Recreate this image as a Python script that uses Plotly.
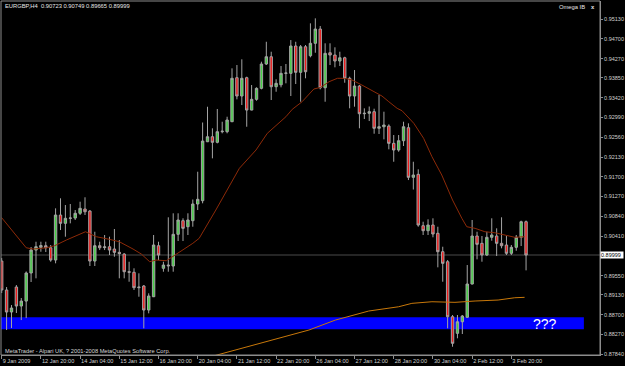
import plotly.graph_objects as go

# ---------------- data (EURGBP, H4) ----------------
bar_index = list(range(108))

opens = [0.89868, 0.89238, 0.88760, 0.89303, 0.88890, 0.88998, 0.89608, 0.90107, 0.90165, 0.90201,
         0.90157, 0.89890, 0.90868, 0.90688, 0.90797, 0.90803, 0.90906, 0.90999, 0.90955, 0.89868,
         0.90201, 0.90160, 0.90179, 0.90129, 0.90057, 0.90020, 0.89636, 0.89623, 0.89288, 0.89325,
         0.88803, 0.89092, 0.90201, 0.89710, 0.89781, 0.89760, 0.90449, 0.90745, 0.90614, 0.90745,
         0.91108, 0.91180, 0.92462, 0.92571, 0.92449, 0.92680, 0.92680, 0.92897, 0.93854, 0.93456,
         0.93854, 0.93151, 0.93384, 0.93623, 0.94152, 0.94310, 0.93658, 0.93700, 0.93949, 0.93949,
         0.94543, 0.93971, 0.94528, 0.94332, 0.94602, 0.94912, 0.93636, 0.94397, 0.94347, 0.94217,
         0.94288, 0.93841, 0.93456, 0.93673, 0.93071, 0.93080, 0.93115, 0.92754, 0.92788, 0.92803,
         0.92427, 0.92282, 0.92484, 0.92767, 0.91688, 0.91753, 0.90636, 0.90527, 0.90651, 0.90471,
         0.90071, 0.89853, 0.88657, 0.88296, 0.88548, 0.88644, 0.89368, 0.90412, 0.90253, 0.89999,
         0.90384, 0.90412, 0.90253, 0.90216, 0.90036, 0.90166, 0.90384, 0.90723]

highs = [0.89933, 0.89303, 0.88911, 0.89346, 0.89064, 0.89641, 0.90172, 0.90288, 0.90288, 0.90288,
         0.90216, 0.91014, 0.91232, 0.91086, 0.91108, 0.90977, 0.91158, 0.91254, 0.90977, 0.90505,
         0.90288, 0.90434, 0.90397, 0.90564, 0.90325, 0.90040, 0.89853, 0.89710, 0.89601, 0.89347,
         0.89166, 0.90434, 0.90288, 0.89853, 0.90819, 0.90906, 0.90906, 0.90797, 0.90906, 0.91206,
         0.91810, 0.92880, 0.93223, 0.92754, 0.93174, 0.92897, 0.93006, 0.94058, 0.94130, 0.94254,
         0.93876, 0.93695, 0.93645, 0.94202, 0.94636, 0.94419, 0.93819, 0.94108, 0.94152, 0.94673,
         0.94636, 0.94565, 0.94565, 0.95036, 0.95145, 0.94978, 0.94602, 0.94602, 0.94515, 0.94419,
         0.94310, 0.93876, 0.94021, 0.93695, 0.93188, 0.93228, 0.93180, 0.93478, 0.93115, 0.92840,
         0.92608, 0.92608, 0.92897, 0.92862, 0.92027, 0.91862, 0.90723, 0.90775, 0.90797, 0.90614,
         0.90179, 0.89890, 0.88694, 0.88694, 0.88694, 0.89781, 0.90760, 0.90505, 0.90412, 0.90505,
         0.90797, 0.90579, 0.90819, 0.90412, 0.90216, 0.90434, 0.90745, 0.90749]

lows = [0.89173, 0.88368, 0.88411, 0.88738, 0.88585, 0.88628, 0.89412, 0.89492, 0.90070, 0.90064,
        0.89853, 0.89818, 0.90542, 0.90397, 0.90688, 0.90760, 0.90869, 0.90869, 0.89760, 0.89760,
        0.90107, 0.90107, 0.89999, 0.89962, 0.89492, 0.89492, 0.89418, 0.89238, 0.89092, 0.88405,
        0.88731, 0.89085, 0.89890, 0.89636, 0.89636, 0.89636, 0.90303, 0.90303, 0.90434, 0.90614,
        0.90977, 0.91123, 0.92455, 0.92101, 0.92427, 0.92645, 0.92645, 0.92890, 0.93384, 0.93260,
        0.92788, 0.93145, 0.93354, 0.93601, 0.94130, 0.93369, 0.93549, 0.93645, 0.93732, 0.93456,
        0.93717, 0.93332, 0.93841, 0.94297, 0.94397, 0.93601, 0.93332, 0.94130, 0.94080, 0.94108,
        0.93745, 0.93189, 0.93224, 0.92754, 0.92956, 0.92912, 0.92636, 0.92630, 0.92514, 0.92297,
        0.92027, 0.92245, 0.92369, 0.91629, 0.91423, 0.90614, 0.90434, 0.90434, 0.90384, 0.89731,
        0.89418, 0.88405, 0.88005, 0.88188, 0.88281, 0.88640, 0.89360, 0.89905, 0.89853, 0.89977,
        0.90310, 0.89977, 0.90144, 0.89999, 0.89999, 0.90092, 0.90195, 0.89665]

closes = [0.89238, 0.88760, 0.88846, 0.88890, 0.88998, 0.89608, 0.90107, 0.90179, 0.90205, 0.90157,
          0.89890, 0.90868, 0.90688, 0.90797, 0.90803, 0.90906, 0.91014, 0.90940, 0.89868, 0.90201,
          0.90157, 0.90175, 0.90107, 0.90057, 0.90030, 0.89636, 0.89625, 0.89288, 0.89300, 0.88803,
          0.89107, 0.90216, 0.89999, 0.89781, 0.89765, 0.90449, 0.90760, 0.90579, 0.90760, 0.91108,
          0.91210, 0.92477, 0.92571, 0.92449, 0.92680, 0.92690, 0.92934, 0.93841, 0.93456, 0.93841,
          0.93151, 0.93384, 0.93623, 0.94152, 0.94310, 0.93658, 0.93732, 0.93949, 0.93955, 0.94543,
          0.93971, 0.94528, 0.93984, 0.94602, 0.94912, 0.93636, 0.94384, 0.94347, 0.94217, 0.94288,
          0.93841, 0.93456, 0.93673, 0.93071, 0.93080, 0.93115, 0.92754, 0.92788, 0.92825, 0.92427,
          0.92282, 0.92484, 0.92788, 0.91688, 0.91738, 0.90651, 0.90527, 0.90651, 0.90456, 0.90071,
          0.89818, 0.88657, 0.88079, 0.88548, 0.88673, 0.89368, 0.90412, 0.90231, 0.89999, 0.90384,
          0.90434, 0.90253, 0.90201, 0.90036, 0.90166, 0.90384, 0.90723, 0.89999]

# fast moving average (dark red line), read at bar positions
ma_fast_bar = [0, 2, 4, 5, 6.4, 9.2, 10.8, 13.2, 17.1, 19.3, 22, 24, 26.8, 28.5, 30.2, 31.5, 33.6,
               34.9, 36.9, 39, 40.3, 43.7, 48.5, 51.9, 54.2, 58, 59.3, 61.3, 63.7, 65.1, 66.8, 68.5,
               70, 71.5, 73.5, 75.6, 77.6, 79, 80.7, 81.7, 84.1, 86.1, 87.8, 89.8, 92, 93.9, 94.9,
               96.6, 98.6, 100.6, 102.7, 104.7, 106.7]
ma_fast_val = [0.90810, 0.90542, 0.90266, 0.90157, 0.90129, 0.90157, 0.90201, 0.90325, 0.90505,
               0.90397, 0.90340, 0.90288, 0.90129, 0.90020, 0.89853, 0.89890, 0.89875, 0.89962,
               0.90107, 0.90253, 0.90362, 0.90977, 0.91884, 0.92282, 0.92645, 0.93006, 0.93167,
               0.93332, 0.93608, 0.93645, 0.93767, 0.93841, 0.93841, 0.93804, 0.93695, 0.93575,
               0.93456, 0.93332, 0.93188, 0.93136, 0.92862, 0.92536, 0.92136, 0.91738, 0.91195,
               0.90797, 0.90614, 0.90579, 0.90505, 0.90484, 0.90434, 0.90384, 0.90397]

# slow moving average (orange line), read at bar positions
ma_slow_bar = [41, 44.4, 50.5, 56.6, 62.7, 68.1, 74.9, 81, 83.7, 87.8, 92.5, 96.6, 101.3, 104.7, 106.7]
ma_slow_val = [0.87740, 0.87840, 0.88020, 0.88188, 0.88368, 0.88585, 0.88781, 0.88874, 0.88948,
               0.88983, 0.88970, 0.88999, 0.89020, 0.89070, 0.89079]

# support zone (blue rectangle) and current bid
zone_low, zone_high = 0.88384, 0.88644
zone_end_bar = 118.8
bid_price = 0.89999

price_ticks = [0.95130, 0.94700, 0.94270, 0.93850, 0.93420, 0.92990, 0.92560, 0.92130, 0.91700,
               0.91270, 0.90840, 0.90410, 0.89550, 0.89130, 0.88700, 0.88270, 0.87840]
date_tick_bars = [0, 8, 16, 24, 32, 40, 48, 56, 64, 72, 80, 88, 96, 104]
date_tick_labels = ["9 Jan 2009", "12 Jan 20:00", "14 Jan 04:00", "15 Jan 12:00", "16 Jan 20:00",
                    "20 Jan 04:00", "21 Jan 12:00", "22 Jan 20:00", "26 Jan 04:00", "27 Jan 12:00",
                    "28 Jan 20:00", "30 Jan 04:00", "2 Feb 12:00", "3 Feb 20:00"]

# ---------------- figure ----------------
FONT = "Liberation Sans, Arial, sans-serif"
WICK = "#a4a4a4"

fig = go.Figure()
fig.add_trace(go.Candlestick(
    x=bar_index, open=opens, high=highs, low=lows, close=closes,
    increasing=dict(line=dict(color=WICK, width=1), fillcolor="#46d046"),
    decreasing=dict(line=dict(color=WICK, width=1), fillcolor="#ee1c1c"),
    whiskerwidth=0, hoverinfo="skip", showlegend=False))
fig.add_trace(go.Scatter(x=ma_fast_bar, y=ma_fast_val, mode="lines",
                         line=dict(color="#8e2a08", width=1), hoverinfo="skip", showlegend=False))
fig.add_trace(go.Scatter(x=ma_slow_bar, y=ma_slow_val, mode="lines",
                         line=dict(color="#c8780a", width=1), hoverinfo="skip", showlegend=False))

x_range = [-0.14, 122.09]
fig.update_layout(
    width=625, height=366,
    margin=dict(l=1, r=23, t=1, b=11, pad=0),
    paper_bgcolor="#000000", plot_bgcolor="#000000",
    showlegend=False,
    font=dict(family=FONT, color="#d4d4d4", size=6),
    xaxis=dict(range=x_range, showgrid=False, zeroline=False, rangeslider=dict(visible=False),
               tickmode="array", tickvals=date_tick_bars, ticktext=date_tick_labels,
               ticks="outside", ticklen=3, tickcolor="#8c8c8c", tickwidth=1, tickangle=0,
               ticklabelposition="outside right",
               tickfont=dict(family=FONT, size=5.6, color="#d0d0d0"),
               showline=True, linecolor="#8c8c8c", linewidth=1, fixedrange=True),
    yaxis=dict(range=[0.87825, 0.95522], side="right", showgrid=False, zeroline=False,
               tickmode="array", tickvals=price_ticks, ticktext=[f"{v:.5f}" for v in price_ticks],
               ticks="outside", ticklen=2, tickcolor="#8c8c8c", tickwidth=1,
               tickfont=dict(family=FONT, size=5.5, color="#d0d0d0"),
               showline=True, linecolor="#8c8c8c", linewidth=1, fixedrange=True),
    shapes=[
        dict(type="rect", xref="x", yref="y", x0=x_range[0], x1=zone_end_bar,
             y0=zone_low, y1=zone_high, fillcolor="#0000ff", line=dict(width=0), layer="below"),
        dict(type="line", xref="paper", yref="y", x0=0, x1=1, y0=bid_price, y1=bid_price,
             line=dict(color="#4a4a4a", width=1), layer="below"),
        dict(type="rect", xref="paper", yref="paper", x0=0, x1=1, y0=0, y1=1,
             line=dict(color="#8c8c8c", width=1), fillcolor="rgba(0,0,0,0)", layer="above"),
    ],
    annotations=[
        dict(text="EURGBP,H4  0.90723 0.90749 0.89665 0.89999", xref="paper", yref="paper",
             x=0.0033, y=0.986, xanchor="left", yanchor="middle", showarrow=False,
             font=dict(family=FONT, size=5.8, color="#e6e6e6")),
        dict(text="Omega IB", xref="paper", yref="paper", x=0.979, y=0.983,
             xanchor="right", yanchor="middle", showarrow=False,
             font=dict(family=FONT, size=5.8, color="#e6e6e6")),
        dict(text="<b>x</b>", xref="paper", yref="paper", x=0.988, y=0.983,
             xanchor="center", yanchor="middle", showarrow=False,
             font=dict(family=FONT, size=5.8, color="#e6e6e6")),
        dict(text="MetaTrader - Alpari UK, ? 2001-2008 MetaQuotes Software Corp.", xref="paper",
             yref="paper", x=0.004, y=0.0113, xanchor="left", yanchor="middle", showarrow=False,
             font=dict(family=FONT, size=5.7, color="#d8d8d8")),
        dict(text="???", xref="x", yref="y", x=110.8, y=0.88505, xanchor="center",
             yanchor="middle", showarrow=False, font=dict(family=FONT, size=14, color="#ffffff")),
        dict(text="0.89999", xref="paper", yref="y", x=1.0, y=bid_price, xanchor="left",
             yanchor="middle", showarrow=False, bgcolor="#ffffff", borderpad=0, width=22,
             align="left", font=dict(family=FONT, size=5.5, color="#000000")),
    ],
)

fig.write_html("out.html")
